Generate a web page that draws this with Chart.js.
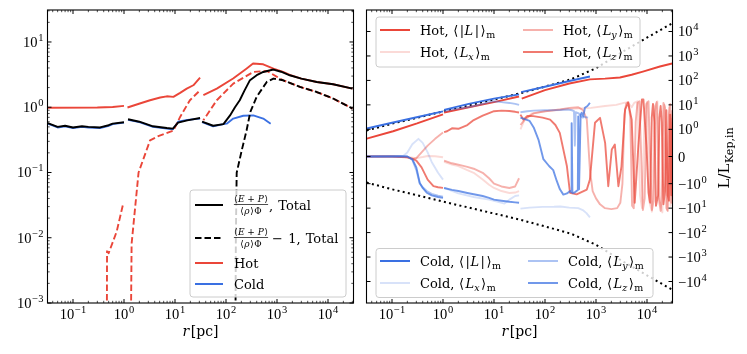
<!DOCTYPE html>
<html><head><meta charset="utf-8">
<script src="https://cdn.jsdelivr.net/npm/chart.js@4.4.0/dist/chart.umd.min.js"></script>
<style>
html,body{margin:0;padding:0;background:#fff;}
#wrap{position:relative;width:747px;height:354px;overflow:hidden;}
canvas{position:absolute;top:0;}
</style></head><body>
<div id="wrap"><canvas id="c1" width="365" height="354" style="left:0"></canvas><canvas id="c2" width="382" height="354" style="left:365px"></canvas></div>
<script>
// ---------------- tick labels ----------------
const xTickValues = [0.1, 1, 10, 100, 1000, 10000];
const xTickLabels = [['10', '−1'], ['10', '0'], ['10', '1'], ['10', '2'], ['10', '3'], ['10', '4']];
const yLeftTickValues = [0.001, 0.01, 0.1, 1, 10];
const yLeftTickLabels = [['10', '−3'], ['10', '−2'], ['10', '−1'], ['10', '0'], ['10', '1']];
const ySymTickValues = [-10000, -1000, -100, -10, -1, 0, 1, 10, 100, 1000, 10000];
const ySymTickLabels = [['−10', '4'], ['−10', '3'], ['−10', '2'], ['−10', '1'], ['−10', '0'], ['0', ''], ['10', '0'], ['10', '1'], ['10', '2'], ['10', '3'], ['10', '4']];

// ---------------- left panel data [r (pc), value] ----------------
const totalA = [[0.032,0.57],[0.05,0.5],[0.07,0.52],[0.1,0.49],[0.15,0.51],[0.2,0.5],[0.34,0.49],[0.5,0.53],[0.6,0.56],[1.0,0.59]];
const totalB = [[1.2,0.655],[2.0,0.6],[3.7,0.51],[6.9,0.48],[9.1,0.47],[11.5,0.58],[17.4,0.63],[31,0.685]];
const totalC = [[34,0.6],[56,0.52],[89,0.55],[120,0.75],[150,1.0],[186,1.28],[230,1.8],[295,2.6],[400,3.1],[537,3.47],[851,3.78],[1200,3.5],[1780,3.09],[3000,2.75],[6030,2.44],[12600,2.25],[30200,1.93]];
const totalM1C = [[150,0.00001],[156,0.01],[162,0.099],[204,0.22],[253,0.44],[300,0.85],[398,1.44],[630,2.44],[851,2.75],[1320,2.59],[2820,2.05],[6030,1.71],[12600,1.36],[30200,0.955]];
const hotA = [[0.032,0.98],[0.3,0.99],[0.6,1.01],[1.0,1.05]];
const hotB = [[1.17,0.99],[2.04,1.14],[3.24,1.28],[5.13,1.41],[6.9,1.47],[9.3,1.44],[12.6,1.66],[17,1.93],[22.9,2.17],[31,2.85]];
const hotC = [[36,1.53],[66,1.93],[138,2.75],[251,3.9],[339,4.67],[537,4.55],[851,3.9],[1320,3.47],[1780,3.12],[3000,2.75],[6030,2.44],[12600,2.25],[30200,1.93]];
const hotM1A = [[0.455,0.00001],[0.465,0.0062],[0.5,0.0058],[0.72,0.0125],[0.97,0.034]];
const hotM1B = [[1.31,0.00001],[1.41,0.0081],[1.93,0.1],[3.24,0.31],[4.7,0.36],[9.3,0.44],[12.6,0.71],[19.6,1.28],[31,1.82]];
const hotM1C = [[35.9,0.63],[66,1.28],[139,2.3],[343,3.47],[630,3.6],[980,2.95],[1320,2.59],[2820,2.05],[6030,1.71],[12600,1.36],[30200,0.955]];
const coldA = [[0.032,0.56],[0.05,0.49],[0.07,0.51],[0.1,0.48],[0.15,0.5],[0.2,0.49],[0.34,0.48],[0.5,0.52],[0.6,0.55],[1.0,0.58]];
const coldB = [[1.2,0.64],[2.0,0.59],[3.7,0.5],[6.9,0.47],[9.1,0.46],[11.5,0.6],[17.4,0.64],[31,0.67]];
const coldC = [[34,0.59],[56,0.51],[89,0.55],[103,0.56],[139,0.67],[218,0.74],[343,0.75],[537,0.67],[751,0.56]];

// ---------------- right panel data [r (pc), L/L_Kep,in] ----------------
const kepR = [0.032,0.1,0.32,1,3.2,10,32,100,320,1000,3200,10000,32000];
const kepV = [0.96,1.7,3.0,5.4,9.5,16.6,29.5,56,110,316,1410,5620,22400];
const kepNegV = [-0.96,-1.7,-3.0,-5.4,-9.5,-16.6,-29.5,-56,-110,-316,-1410,-5620,-22400];

const hotL_A = [[0.032,0.66],[0.105,0.93],[0.31,1.74],[1.0,4.1]];
const hotL_B = [[1.05,4.9],[3.2,8],[10,13],[31,22]];
const hotL_C = [[35,18],[100,40],[300,75],[760,110],[1500,118],[2950,132],[5000,170],[8300,230],[17900,370],[31000,490]];
const hotLx_A = [[0.032,0],[0.12,0],[0.2,-0.02],[0.3,-0.06],[0.4,-0.02],[0.5,0.02],[0.7,0.01],[1.0,-0.03]];
const hotLx_B = [[1.05,-0.2],[1.5,-0.3],[2,-0.35],[3,-0.5],[4,-0.6],[6,-0.85],[8,-1.1],[10,-1.5],[14,-2.0],[20,-2.4],[26,-2.3],[31,-2.0]];
const hotLx_C = [[33,1.0],[40,2.5],[55,4.5],[100,5.5],[200,6.5],[400,7],[800,7.5],[1500,9],[2500,10],[3500,12],[4200,13],[5000,8],[5600,12],[6500,14],[7300,-3],[8000,-10],[9000,6],[10000,13],[11000,-5],[12500,-14],[14000,5],[16000,14],[18000,-6],[20000,-15],[22000,10],[25000,-12],[27000,8],[29000,-8],[31600,2]];
const hotLy_A = [[0.032,0],[0.1,0],[0.15,-0.01],[0.2,-0.03],[0.25,-0.1],[0.3,-0.06],[0.4,0.2],[0.5,0.4],[0.7,0.65],[1.0,0.88]];
const hotLy_B = [[1.05,-0.15],[1.5,-0.25],[2,-0.3],[3,-0.38],[4,-0.45],[6,-0.6],[8,-0.8],[10,-1.0],[14,-1.3],[20,-1.5],[26,-1.3],[31,-0.8]];
const hotLy_C = [[33,1.5],[40,2.5],[50,3.5],[60,4.5],[100,5.5],[200,6.5],[300,7.5],[450,8],[560,6],[660,2.5],[760,-0.5],[860,-2.0],[1000,-4],[1200,-7],[1500,-10],[2000,-11],[2600,-10],[3000,-6],[3300,-1],[3600,4],[3900,11],[4300,13],[4700,3],[5100,-8],[5500,-10],[6000,2],[6500,12],[7100,14],[7700,0],[8300,-12],[9000,-4],[9800,11],[10700,14],[11500,0],[12500,-12],[13500,-5],[14500,9],[15500,13],[17000,-4],[18500,-13],[19500,-3],[21000,12],[22500,8],[24000,-10],[25500,-13],[27000,4],[28500,11],[30000,-6],[31600,3]];
const hotLz_A = [[0.032,0],[0.1,0],[0.15,-0.02],[0.2,-0.03],[0.25,-0.08],[0.3,-0.15],[0.38,-0.4],[0.5,-0.85],[0.65,-1.26],[0.8,-1.4],[1.0,-1.48]];
const hotLz_B = [[1.05,0.9],[1.2,0.93],[1.5,1.1],[2,1.05],[3,1.5],[4,2.4],[6,3.6],[8,4.6],[10,5.5],[14,5.8],[20,5.6],[26,5.2],[31,4.9]];
const hotLz_C = [[33,4.0],[37.6,2.5],[45,3.5],[59,3.45],[90,3.0],[126,2.5],[160,1.5],[195,0.87],[269,-0.36],[309,-2.35],[417,-2.75],[661,-1.74],[759,-0.85],[955,1.85],[1200,2.95],[1510,0.5],[1740,-1.27],[2040,0.26],[2340,0.44],[2750,-1.27],[3160,-0.36],[3720,6.5],[4270,12.2],[5010,2.5],[5750,-6.0],[6760,0.38],[7940,16.5],[8510,16.5],[9770,0.38],[10700,-2.35],[11500,-6],[12400,3],[13100,11],[14000,2],[15000,-8],[16500,-3],[17500,3],[18500,9],[19500,2],[21000,-7],[22500,-2],[24000,6],[25500,-3],[27000,-5],[28500,4],[30000,-3],[31600,6]];

const coldL_A = [[0.032,1.08],[0.1,1.85],[0.32,3.2],[1.0,5.4]];
const coldL_B = [[1.05,6.2],[3.2,11],[10,18],[31,27]];
const coldL_C = [[34,33],[100,55],[300,95],[760,145]];
const coldLx_A = [[0.032,0],[0.1,0],[0.166,0.02],[0.2,0.15],[0.25,0.45],[0.33,0.65],[0.4,0.5],[0.5,0.15],[0.6,-0.2],[0.8,-0.6],[1.0,-0.85]];
const coldLx_B = [[1.05,-1.5],[2,-2.5],[4,-3.5],[8,-4.5],[12,-5.5],[16,-6.5],[20,-4.5],[26,-3.2],[31,-3.0]];
const coldLx_C = [[33,-10.5],[50,-9.5],[90,-8.9],[150,-8.8],[200,-8.6],[300,-9.5],[450,-10],[550,-12],[650,-16],[760,-24]];
const coldLy_A = [[0.032,0],[0.1,0.01],[0.15,0.02],[0.2,0],[0.25,-0.12],[0.3,-0.5],[0.35,-1.0],[0.4,-1.4],[0.48,-2.0],[0.6,-2.6],[0.8,-3.1],[1.0,-3.4]];
const coldLy_B = [[1.05,5.5],[1.5,6.5],[2,7],[3,8],[4,9],[6,11],[8,13],[10,14],[14,13],[20,12],[26,11],[31,10]];
const coldLy_C = [[33,5.0],[45,5.5],[60,5.8],[100,6.0],[200,6.2],[280,6.5],[340,6.0],[370,5.5],[385,0.4],[400,5.0],[460,4.5],[500,3.5],[550,3.0],[600,3.2],[700,3.0]];
const coldLz_A = [[0.032,0],[0.1,0],[0.15,0],[0.2,0],[0.25,-0.1],[0.3,-0.4],[0.35,-0.97],[0.4,-1.5],[0.48,-2.35],[0.6,-3.0],[0.8,-3.5],[1.0,-3.8]];
const coldLz_B = [[1.05,-1.5],[1.5,-1.8],[2,-2.0],[3,-2.4],[4,-2.7],[6,-3.2],[8,-3.8],[10,-4.5],[14,-5.0],[20,-5.5],[26,-5.8],[31,-6.0]];
const coldLz_C = [[33,3.0],[40,2.6],[50,2.2],[60,1.2],[75,0.6],[93,-0.1],[120,-0.35],[145,-0.5],[170,-0.9],[196,-1.7],[229,-2.8],[270,-2.5],[310,-2.0],[325,-2.2],[333,1.8],[345,-2.4],[380,-2.3],[440,-1.8],[449,3.4],[465,-1.7],[484,-1.7],[500,4.0],[524,4.8],[565,3.4],[606,7.6],[680,9],[760,12]];

// ---------------- styling ----------------
const NUMFAM = '"Liberation Serif","DejaVu Serif",serif';
const TXTFAM = '"DejaVu Serif","Liberation Serif",serif';
const fnt = (size, style) => (style ? style + ' ' : '') + size + 'px ' + TXTFAM;
const nfnt = size => size + 'px ' + NUMFAM;
const hot = a => 'rgba(234,70,57,' + a + ')';
const cold = a => 'rgba(58,112,226,' + a + ')';
const BLACK = '#000000';
const A_X = 0.2, A_Y = 0.42, A_Z = 0.72;

// symlog transform (linthresh 1, linscale 1, base 10)
const LS = 1 / (1 - 1 / 10);
function sT(v) { const a = Math.abs(v); return a <= 1 ? v * LS : Math.sign(v) * (LS + Math.log10(a)); }
function sTinv(t) { const a = Math.abs(t); return a <= LS ? t / LS : Math.sign(t) * Math.pow(10, a - LS); }
class SymlogScale extends Chart.Scale {
  determineDataLimits() { this.min = this.options.min; this.max = this.options.max; }
  buildTicks() { return ySymTickValues.map(v => ({ value: v })); }
  configure() { super.configure(); this._t0 = sT(this.min); this._t1 = sT(this.max); }
  getPixelForValue(v) { return this.getPixelForDecimal((sT(v) - this._t0) / (this._t1 - this._t0)); }
  getValueForPixel(p) { return sTinv(this._t0 + this.getDecimalForPixel(p) * (this._t1 - this._t0)); }
  getLabelForValue(v) { return String(v); }
}
SymlogScale.id = 'symlog';
SymlogScale.defaults = {};
Chart.register(SymlogScale);

function ds(data, color, extra) {
  return Object.assign({ data: data.map(p => ({ x: p[0], y: p[1] })), borderColor: color, backgroundColor: color,
    borderWidth: 1.9, pointRadius: 0, pointHoverRadius: 0, fill: false, tension: 0, borderJoinStyle: 'round' }, extra || {});
}
function dsXY(xs, ys, color, extra) { return ds(xs.map((x, i) => [x, ys[i]]), color, extra); }

function logTickSet(min, max) {
  const major = [], minor = [];
  for (let e = Math.floor(Math.log10(min)) - 1; e <= Math.ceil(Math.log10(max)); e++) {
    for (let m = 1; m < 10; m++) {
      const v = m * Math.pow(10, e);
      if (v < min * 0.9999 || v > max * 1.0001) continue;
      (m === 1 ? major : minor).push(v);
    }
  }
  return { major, minor };
}
function tickLines(ctx, scale, vals, len, lw, area, horizontal) {
  ctx.lineWidth = lw; ctx.strokeStyle = '#000'; ctx.beginPath();
  for (const v of vals) {
    const p = scale.getPixelForValue(v);
    if (horizontal) { ctx.moveTo(p, area.bottom); ctx.lineTo(p, area.bottom - len); ctx.moveTo(p, area.top); ctx.lineTo(p, area.top + len); }
    else { ctx.moveTo(area.left, p); ctx.lineTo(area.left + len, p); ctx.moveTo(area.right, p); ctx.lineTo(area.right - len, p); }
  }
  ctx.stroke();
}
// base + superscript tick label
function expLabel(ctx, lab, x, y, align) {
  const BF = nfnt(14.5), EF = nfnt(10.5);
  ctx.font = BF; const wb = ctx.measureText(lab[0]).width;
  ctx.font = EF; const we = lab[1] ? ctx.measureText(lab[1]).width + 0.8 : 0;
  const w = wb + we;
  const x0 = align === 'center' ? x - w / 2 : align === 'right' ? x - w : x;
  ctx.font = BF; ctx.fillText(lab[0], x0, y);
  if (lab[1]) { ctx.font = EF; ctx.fillText(lab[1], x0 + wb + 0.8, y - 6); }
}
function rich(ctx, x, y, parts) {
  let cx = x;
  for (const p of parts) {
    cx += (p[3] || 0);
    ctx.font = p[1];
    ctx.fillText(p[0], cx, y + (p[2] || 0));
    cx += ctx.measureText(p[0]).width;
  }
  return cx - x;
}
function richWidth(ctx, parts) {
  let w = 0;
  for (const p of parts) { w += (p[3] || 0); ctx.font = p[1]; w += ctx.measureText(p[0]).width; }
  return w;
}
function legendBox(ctx, x, y, w, h) {
  ctx.save(); ctx.beginPath(); ctx.roundRect(x, y, w, h, 3);
  ctx.fillStyle = 'rgba(255,255,255,0.8)'; ctx.fill();
  ctx.strokeStyle = '#cccccc'; ctx.lineWidth = 1; ctx.stroke(); ctx.restore();
}
function sample(ctx, x0, x1, y, color, dash) {
  ctx.save(); ctx.strokeStyle = color; ctx.lineWidth = 2; ctx.setLineDash(dash || []);
  ctx.beginPath(); ctx.moveTo(x0, y); ctx.lineTo(x1, y); ctx.stroke(); ctx.restore();
}
function xTitle(ctx, area) {
  const parts = [['r', fnt(14, 'italic')], ['[pc]', fnt(14), 0, 1.5]];
  const w = richWidth(ctx, parts);
  ctx.fillStyle = '#000'; ctx.textBaseline = 'alphabetic'; ctx.textAlign = 'left';
  rich(ctx, (area.left + area.right) / 2 - w / 2, 336, parts);
}

const R = fnt(13), I = fnt(13, 'italic'), S = fnt(9.5), SI = fnt(9.5, 'italic');
function angleLabel(prefix, comp) {
  const parts = [[prefix + ', ', R], ['⟨', R, 0, 0.5]];
  if (comp === 'abs') parts.push(['|', R, 0, 1.5], ['L', I, 0, 0.5], ['|', R, 0, 1.5]);
  else parts.push(['L', I, 0, 1.5], [comp, SI, 3, 0]);
  parts.push(['⟩', R, 0, 1.5], ['m', S, 3, 0.5]);
  return parts;
}

const framePlugin = {
  id: 'frame',
  afterDatasetsDraw(chart) {
    const ctx = chart.ctx, area = chart.chartArea;
    ctx.save();
    const xs = chart.scales.x, ys = chart.scales.y;
    const xt = logTickSet(xs.min, xs.max);
    tickLines(ctx, xs, xt.major, 4, 1, area, true);
    tickLines(ctx, xs, xt.minor, 2.2, 0.7, area, true);
    if (ys.type === 'logarithmic') {
      const yt = logTickSet(ys.min, ys.max);
      tickLines(ctx, ys, yt.major, 4, 1, area, false);
      tickLines(ctx, ys, yt.minor, 2.2, 0.7, area, false);
    } else {
      tickLines(ctx, ys, ySymTickValues, 4, 1, area, false);
    }
    ctx.lineWidth = 1.1; ctx.strokeStyle = '#000';
    ctx.strokeRect(area.left, area.top, area.right - area.left, area.bottom - area.top);
    // tick labels
    ctx.fillStyle = '#000'; ctx.textBaseline = 'alphabetic'; ctx.textAlign = 'left';
    xTickValues.forEach((v, i) => expLabel(ctx, xTickLabels[i], xs.getPixelForValue(v), 318.5, 'center'));
    if (ys.type === 'logarithmic') {
      yLeftTickValues.forEach((v, i) => expLabel(ctx, yLeftTickLabels[i], area.left - 4, ys.getPixelForValue(v) + 5, 'right'));
    } else {
      ySymTickValues.forEach((v, i) => expLabel(ctx, ySymTickLabels[i], area.right + 5.5, ys.getPixelForValue(v) + 5, 'left'));
    }
    ctx.restore();
  }
};

const baseX = {
  type: 'logarithmic', min: Math.pow(10, -1.5), max: Math.pow(10, 4.5),
  grid: { display: false, drawTicks: false }, border: { display: false },
  afterBuildTicks: s => { s.ticks = xTickValues.map(v => ({ value: v })); },
  ticks: { display: false },
  afterFit: s => { s.height = 51; }
};

// ---------------- left chart ----------------
const leftLegend = {
  id: 'leftLegend',
  afterDraw(chart) {
    const ctx = chart.ctx, area = chart.chartArea;
    ctx.save();
    xTitle(ctx, area);
    legendBox(ctx, 190, 190, 156, 107);
    sample(ctx, 195, 223, 205, BLACK);
    sample(ctx, 195, 223, 238, BLACK, [6.5, 3]);
    sample(ctx, 195, 223, 263, hot(1));
    sample(ctx, 195, 223, 284, cold(1));
    ctx.fillStyle = '#000'; ctx.textBaseline = 'alphabetic';
    const F = fnt(9), FI = fnt(9, 'italic');
    const num = [['⟨', F], ['E', FI, 0, 0.5], [' + ', F], ['P', FI], ['⟩', F, 0, 0.8]];
    const den = [['⟨', F], ['ρ', FI, 0, 0.5], ['⟩', F, 0, 0.8], ['Φ', F, 0, 0.5]];
    for (const [cy, tail] of [[205, [[',', R], [' Total', R, 0, 1]]], [238, [['−', R, 0, 3], [' 1,', R, 0, 1], [' Total', R, 0, 1]]]]) {
      const cx = 251, nw = richWidth(ctx, num), dw = richWidth(ctx, den);
      rich(ctx, cx - nw / 2, cy - 3, num);
      rich(ctx, cx - dw / 2, cy + 8.5, den);
      ctx.lineWidth = 0.7; ctx.strokeStyle = '#000';
      ctx.beginPath(); ctx.moveTo(cx - nw / 2, cy - 0.5); ctx.lineTo(cx + nw / 2, cy - 0.5); ctx.stroke();
      rich(ctx, cx + nw / 2 + 1, cy + 4.5, tail);
    }
    rich(ctx, 234, 268, [['Hot', R]]);
    rich(ctx, 234, 289, [['Cold', R]]);
    ctx.restore();
  }
};

new Chart(document.getElementById('c1'), {
  type: 'line',
  data: { datasets: [
    ds(totalA, BLACK, { order: 1 }), ds(totalB, BLACK, { order: 1 }), ds(totalC, BLACK, { order: 1 }),
    ds(totalM1C, BLACK, { order: 2, borderDash: [6.5, 3] }),
    ds(hotM1A, hot(1), { order: 3, borderDash: [6.5, 3] }), ds(hotM1B, hot(1), { order: 3, borderDash: [6.5, 3] }),
    ds(hotM1C, hot(1), { order: 3, borderDash: [6.5, 3], borderDashOffset: 4.5 }),
    ds(hotA, hot(1), { order: 4 }), ds(hotB, hot(1), { order: 4 }), ds(hotC, hot(1), { order: 4 }),
    ds(coldA, cold(1), { order: 5 }), ds(coldB, cold(1), { order: 5 }), ds(coldC, cold(1), { order: 5 })
  ] },
  options: {
    responsive: false, animation: false, devicePixelRatio: 1,
    layout: { padding: { left: 0, right: 11.5, top: 10, bottom: 0 } },
    plugins: { legend: { display: false }, tooltip: { enabled: false } },
    scales: {
      x: baseX,
      y: { type: 'logarithmic', min: 0.001, max: Math.pow(10, 1.49),
        grid: { display: false, drawTicks: false }, border: { display: false },
        afterBuildTicks: s => { s.ticks = yLeftTickValues.map(v => ({ value: v })); },
        ticks: { display: false },
        afterFit: s => { s.width = 47.5; } }
    }
  },
  plugins: [framePlugin, leftLegend]
});

// ---------------- right chart ----------------
const OFF = 365;
const rightLegend = {
  id: 'rightLegend',
  afterDraw(chart) {
    const ctx = chart.ctx;
    ctx.save();
    xTitle(ctx, chart.chartArea);
    // y label
    ctx.save();
    ctx.translate(723 - OFF + 6, 158);
    ctx.rotate(-Math.PI / 2);
    const yl = [['L/L', fnt(15)], ['Kep,in', fnt(11), 3.5, 0.5]];
    const yw = richWidth(ctx, yl);
    ctx.fillStyle = '#000'; ctx.textBaseline = 'alphabetic';
    rich(ctx, -yw / 2, 0, yl);
    ctx.restore();
    // upper legend (Hot)
    legendBox(ctx, 376 - OFF, 17, 264, 50);
    sample(ctx, 380 - OFF, 410 - OFF, 30, hot(1));
    sample(ctx, 380 - OFF, 410 - OFF, 52, hot(A_X));
    sample(ctx, 523 - OFF, 553 - OFF, 30, hot(A_Y));
    sample(ctx, 523 - OFF, 553 - OFF, 52, hot(A_Z));
    ctx.fillStyle = '#000';
    rich(ctx, 420 - OFF, 34.5, angleLabel('Hot', 'abs'));
    rich(ctx, 420 - OFF, 56.5, angleLabel('Hot', 'x'));
    rich(ctx, 563 - OFF, 34.5, angleLabel('Hot', 'y'));
    rich(ctx, 563 - OFF, 56.5, angleLabel('Hot', 'z'));
    // lower legend (Cold)
    legendBox(ctx, 376 - OFF, 248.5, 277, 49);
    sample(ctx, 380 - OFF, 410 - OFF, 261, cold(1));
    sample(ctx, 380 - OFF, 410 - OFF, 283, cold(A_X));
    sample(ctx, 528 - OFF, 558 - OFF, 261, cold(A_Y));
    sample(ctx, 528 - OFF, 558 - OFF, 283, cold(A_Z));
    ctx.fillStyle = '#000';
    rich(ctx, 420 - OFF, 265.5, angleLabel('Cold', 'abs'));
    rich(ctx, 420 - OFF, 287.5, angleLabel('Cold', 'x'));
    rich(ctx, 568 - OFF, 265.5, angleLabel('Cold', 'y'));
    rich(ctx, 568 - OFF, 287.5, angleLabel('Cold', 'z'));
    ctx.restore();
  }
};

const DOT = { borderDash: [2, 3.3], borderWidth: 2, borderCapStyle: 'butt' };
new Chart(document.getElementById('c2'), {
  type: 'line',
  data: { datasets: [
    ds(coldL_A, cold(1), { order: 1 }), ds(coldL_B, cold(1), { order: 1 }), ds(coldL_C, cold(1), { order: 1 }),
    ds(coldLz_A, cold(A_Z), { order: 2 }), ds(coldLz_B, cold(A_Z), { order: 2 }), ds(coldLz_C, cold(A_Z), { order: 2 }),
    ds(coldLy_A, cold(A_Y), { order: 3 }), ds(coldLy_B, cold(A_Y), { order: 3 }), ds(coldLy_C, cold(A_Y), { order: 3 }),
    ds(coldLx_A, cold(A_X), { order: 4 }), ds(coldLx_B, cold(A_X), { order: 4 }), ds(coldLx_C, cold(A_X), { order: 4 }),
    ds(hotL_A, hot(1), { order: 5 }), ds(hotL_B, hot(1), { order: 5 }), ds(hotL_C, hot(1), { order: 5 }),
    ds(hotLz_A, hot(A_Z), { order: 6 }), ds(hotLz_B, hot(A_Z), { order: 6 }), ds(hotLz_C, hot(A_Z), { order: 6 }),
    ds(hotLy_A, hot(A_Y), { order: 7 }), ds(hotLy_B, hot(A_Y), { order: 7 }), ds(hotLy_C, hot(A_Y), { order: 7 }),
    ds(hotLx_A, hot(A_X), { order: 8 }), ds(hotLx_B, hot(A_X), { order: 8 }), ds(hotLx_C, hot(A_X), { order: 8 }),
    dsXY(kepR, kepV, BLACK, Object.assign({ order: 9 }, DOT)),
    dsXY(kepR, kepNegV, BLACK, Object.assign({ order: 9 }, DOT))
  ] },
  options: {
    responsive: false, animation: false, devicePixelRatio: 1,
    layout: { padding: { left: 1.5, right: 0, top: 10, bottom: 0 } },
    plugins: { legend: { display: false }, tooltip: { enabled: false } },
    scales: {
      x: baseX,
      y: { type: 'symlog', position: 'right', min: -75700, max: 75700,
        grid: { display: false, drawTicks: false }, border: { display: false },
        ticks: { display: false },
        afterFit: s => { s.width = 74.5; } }
    }
  },
  plugins: [framePlugin, rightLegend]
});
</script>
</body></html>
